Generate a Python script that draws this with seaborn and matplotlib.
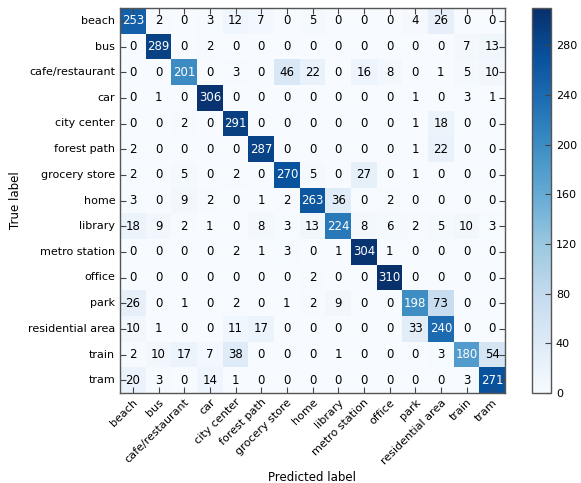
import numpy as np
import pandas as pd
import matplotlib
matplotlib.use("Agg")
import matplotlib.pyplot as plt
import seaborn as sns

classes = ["beach", "bus", "cafe/restaurant", "car", "city center", "forest path",
           "grocery store", "home", "library", "metro station", "office", "park",
           "residential area", "train", "tram"]

row_beach = [253, 2, 0, 3, 12, 7, 0, 5, 0, 0, 0, 4, 26, 0, 0]
row_bus = [0, 289, 0, 2, 0, 0, 0, 0, 0, 0, 0, 0, 0, 7, 13]
row_cafe = [0, 0, 201, 0, 3, 0, 46, 22, 0, 16, 8, 0, 1, 5, 10]
row_car = [0, 1, 0, 306, 0, 0, 0, 0, 0, 0, 0, 1, 0, 3, 1]
row_city = [0, 0, 2, 0, 291, 0, 0, 0, 0, 0, 0, 1, 18, 0, 0]
row_forest = [2, 0, 0, 0, 0, 287, 0, 0, 0, 0, 0, 1, 22, 0, 0]
row_grocery = [2, 0, 5, 0, 2, 0, 270, 5, 0, 27, 0, 1, 0, 0, 0]
row_home = [3, 0, 9, 2, 0, 1, 2, 263, 36, 0, 2, 0, 0, 0, 0]
row_library = [18, 9, 2, 1, 0, 8, 3, 13, 224, 8, 6, 2, 5, 10, 3]
row_metro = [0, 0, 0, 0, 2, 1, 3, 0, 1, 304, 1, 0, 0, 0, 0]
row_office = [0, 0, 0, 0, 0, 0, 0, 2, 0, 0, 310, 0, 0, 0, 0]
row_park = [26, 0, 1, 0, 2, 0, 1, 2, 9, 0, 0, 198, 73, 0, 0]
row_resid = [10, 1, 0, 0, 11, 17, 0, 0, 0, 0, 0, 33, 240, 0, 0]
row_train = [2, 10, 17, 7, 38, 0, 0, 0, 1, 0, 0, 0, 3, 180, 54]
row_tram = [20, 3, 0, 14, 1, 0, 0, 0, 0, 0, 0, 0, 0, 3, 271]

cm = np.array([row_beach, row_bus, row_cafe, row_car, row_city, row_forest,
               row_grocery, row_home, row_library, row_metro, row_office,
               row_park, row_resid, row_train, row_tram])
df = pd.DataFrame(cm, index=classes, columns=classes)

plt.rcParams['font.family'] = ['DejaVu Sans']
fig = plt.figure(figsize=(5.81, 4.83), dpi=100)
ax = fig.add_axes([120/581, 1-393/483, 385/581, 385/483])
cax = fig.add_axes([532/581, 1-393/483, 19/581, 385/483])

sns.heatmap(df, ax=ax, cbar_ax=cax, cmap="Blues", vmin=0, vmax=cm.max(),
            annot=True, fmt="d", annot_kws={"fontsize": 8.5},
            cbar_kws={"ticks": list(range(0, 281, 40))})

thresh = cm.max() / 2.0
for t in ax.texts:
    v = int(t.get_text())
    t.set_color("white" if v > thresh else "black")

for s in ax.spines.values():
    s.set_visible(True)
    s.set_color("#555555")
    s.set_linewidth(1.0)
ax.tick_params(direction="in", length=4, top=True, right=True, labelsize=8,
               color="#444444")
ax.set_xticklabels(classes, rotation=45, ha="right", rotation_mode="anchor")
ax.set_yticklabels(classes, rotation=0)
ax.tick_params(axis="x", pad=3)
ax.set_xlabel("Predicted label", fontsize=8.5)
ax.set_ylabel("True label", fontsize=8.5)

cax.tick_params(direction="in", length=4, labelsize=8, color="#444444")
cb = ax.collections[0].colorbar
cb.outline.set_edgecolor("#555555")
cb.outline.set_linewidth(1.0)

fig.savefig("out.png", dpi=100)
